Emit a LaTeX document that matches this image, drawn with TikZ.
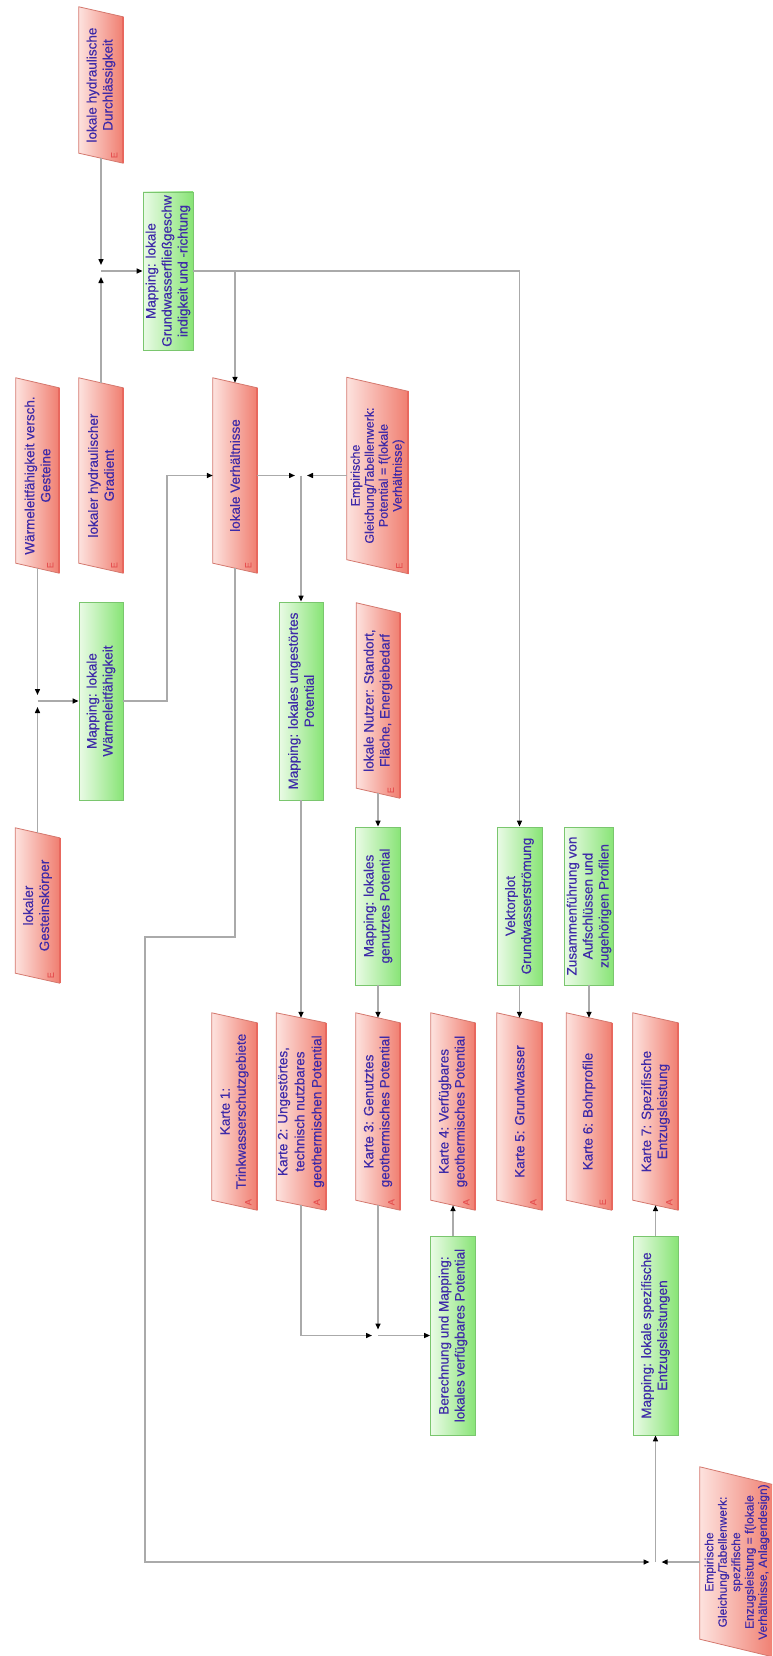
\documentclass[tikz,border=0pt]{standalone}
\usepackage{fontspec}
\setmainfont{Liberation Sans}
\newfontfamily\boxfont{Liberation Sans}[FakeBold=0.4]
\usepackage{graphicx}
\usetikzlibrary{arrows.meta,backgrounds,calc}
\definecolor{txtc}{RGB}{62,42,168}
\definecolor{redL}{RGB}{253,226,222}
\definecolor{redR}{RGB}{240,126,112}
\definecolor{redB}{RGB}{212,120,110}
\definecolor{redS}{RGB}{232,104,94}
\definecolor{grnL}{RGB}{234,251,230}
\definecolor{grnR}{RGB}{136,228,118}
\definecolor{grnB}{RGB}{122,198,110}
\definecolor{lineC}{RGB}{170,170,170}
\definecolor{mkC}{RGB}{230,80,80}
\tikzset{
 boxtext/.style={rectangle, inner sep=0pt, text=txtc, font=\boxfont\fontsize{13.5}{16}\selectfont},
 redshape/.style={left color=redL, right color=redR, draw=redB, line width=0.8pt},
 greenbox/.style={boxtext, left color=grnL, right color=grnR, draw=grnB, line width=0.8pt},
 conn/.style={draw=lineC, line width=1.4pt},
 arr/.style={conn, -{Triangle[length=6pt,width=5pt,color=black]}},
 jarr/.style={arr, shorten >=6pt},
 markerstyle/.style={inner sep=0pt, text=mkC, font=\boxfont\fontsize{9}{9}\selectfont, rotate=90},
}
\newcommand{\mkred}[6]{\node[boxtext, minimum width=#4pt, minimum height=#5pt] (#1) at (#2,#3) {\rotatebox{90}{\parbox{#5pt}{\centering #6}}};}
\newcommand{\mkgreen}[6]{\node[greenbox, minimum width=#4pt, minimum height=#5pt] (#1) at (#2,#3) {\rotatebox{90}{\parbox{#5pt}{\centering #6}}};}
\begin{document}
\begin{tikzpicture}[x=1pt,y=-1pt]
\useasboundingbox (0,0) rectangle (772,1656);
\clip (0,0) rectangle (772,1656);
% red boxes (text nodes)
\mkred{dur}{101}{85}{44}{146}{lokale hydraulische\\Durchlässigkeit}
\mkred{waerme}{37.5}{475.5}{43}{185}{Wärmeleitfähigkeit versch.\\Gesteine}
\mkred{grad}{101}{475.5}{44}{185}{lokaler hydraulischer\\Gradient}
\mkred{verh}{235}{475.5}{44}{185}{lokale Verhältnisse}
\mkred{empa}{377.5}{475.5}{61}{182}{\fontsize{12.5}{14}\selectfont Empirische\\Gleichung/Tabellenwerk:\\Potential = f(lokale\\Verhältnisse)}
\mkred{nutzer}{378}{700.5}{43}{185}{lokale Nutzer: Standort,\\Fläche, Energiebedarf}
\mkred{gest}{37.5}{905.5}{44}{145}{lokaler\\Gesteinskörper}
\mkred{ka}{234.5}{1111.5}{45}{187}{Karte 1:\\Trinkwasserschutzgebiete}
\mkred{kb}{301}{1111.5}{49}{187}{\fontsize{13.5}{17}\selectfont Karte 2: Ungestörtes,\\technisch nutzbares\\geothermischen Potential}
\mkred{kc}{378}{1111.5}{44}{187}{Karte 3: Genutztes\\geothermisches Potential}
\mkred{kd}{453}{1111.5}{44}{187}{Karte 4: Verfügbares\\geothermisches Potential}
\mkred{ke}{519.5}{1111.5}{45}{187}{Karte 5: Grundwasser}
\mkred{kf}{589}{1111.5}{45}{187}{Karte 6: Bohrprofile}
\mkred{kg}{655.5}{1111.5}{45}{187}{Karte 7: Spezifische\\Entzugsleistung}
\mkred{empb}{737}{1562}{74}{172}{\fontsize{12}{13.4}\selectfont Empirische\\Gleichung/Tabellenwerk:\\spezifische\\Enzugsleistung = f(lokale\\Verhältnisse, Anlagendesign)}
% green boxes
\mkgreen{gw}{168}{271}{50}{158}{Mapping: lokale\\Grundwasserfließgeschw\\indigkeit und -richtung}
\mkgreen{mw}{101}{701}{44}{198}{Mapping: lokale\\Wärmeleitfähigkeit}
\mkgreen{mu}{301}{701}{44}{198}{Mapping: lokales ungestörtes\\Potential}
\mkgreen{mg}{378}{906}{45}{158}{Mapping: lokales\\genutztes Potential}
\mkgreen{vek}{519.5}{906}{45}{158}{Vektorplot\\Grundwasserströmung}
\mkgreen{zus}{589}{906}{49}{158}{Zusammenführung von\\Aufschlüssen und\\zugehörigen Profilen}
\mkgreen{ber}{453}{1335.5}{45}{199}{Berechnung und Mapping:\\lokales verfügbares Potential}
\mkgreen{ment}{655.5}{1335.5}{45}{199}{Mapping: lokale spezifische\\Entzugsleistungen}
% red parallelograms behind the text
\begin{pgfonlayer}{background}
\clip (0,0) rectangle (772,1656);
\foreach \n/\h in {dur/5pt,waerme/5pt,grad/5pt,verh/5pt,empa/7pt,nutzer/5pt,gest/5pt,ka/5pt,kb/5pt,kc/5pt,kd/5pt,ke/5pt,kf/5pt,kg/5pt,empb/9pt}{
  \path[redshape] ([yshift=\h]\n.north west) -- ([yshift=-\h]\n.north east) -- ([yshift=-\h]\n.south east) -- ([yshift=\h]\n.south west) -- cycle;
  \draw[redS, line width=1.6pt] ([yshift=-\h]\n.north east) -- ([yshift=-\h]\n.south east);
}
\end{pgfonlayer}
% corner markers
\foreach \n/\s/\L in {dur/3pt/E,waerme/3pt/E,grad/3pt/E,verh/3pt/E,empa/1pt/E,nutzer/3pt/E,gest/3pt/E,ka/3pt/A,kb/3pt/A,kc/3pt/A,kd/3pt/A,ke/3pt/A,kf/3pt/E,kg/3pt/A}{
  \node[markerstyle] (\n-mk) at ([xshift=-9pt,yshift=\s]\n.south east) {\L};
}
% junction points
\coordinate (J1) at (dur.south |- gw.west);
\coordinate (J2) at (waerme.south |- mw.west);
\coordinate (J3) at (mu.north |- verh.east);
\coordinate (J4) at (ment.south |- empb.west);
\coordinate (J5) at (kc.south |- ber.west);
\coordinate (T1) at (167,701);
\coordinate (M2) at (145,937);
% connectors
\draw[jarr] (dur.south) -- (J1);
\draw[jarr] (grad.north) -- (J1);
\draw[arr] (J1) -- (gw.west);
\draw[arr] (gw.east) -| (vek.north);
\draw[arr] (verh.north |- gw.east) -- (verh.north);
\draw[jarr] (waerme.south) -- (J2);
\draw[jarr] (gest.north) -- (J2);
\draw[arr] (J2) -- (mw.west);
\draw[arr] (mw.east) -- (T1) |- (verh.west);
\draw[jarr] (verh.east) -- (J3);
\draw[jarr] (empa.west) -- (J3);
\draw[arr] (J3) -- (mu.north);
\draw[jarr] (verh.south) |- (M2) |- (J4);
\draw[jarr] (empb.west |- J4) -- (J4);
\draw[arr] (J4) -- (ment.south);
\draw[arr] (ment.north) -- (kg.south);
\draw[arr] (mu.south) -- (kb.north);
\draw[arr] (nutzer.south) -- (mg.north);
\draw[arr] (mg.south) -- (kc.north);
\draw[jarr] (kb.south) |- (J5);
\draw[jarr] (kc.south) -- (J5);
\draw[arr] (J5) -- (ber.west);
\draw[arr] (ber.north) -- (kd.south);
\draw[arr] (vek.south) -- (ke.north);
\draw[arr] (zus.south) -- (kf.north);
\end{tikzpicture}
\end{document}
